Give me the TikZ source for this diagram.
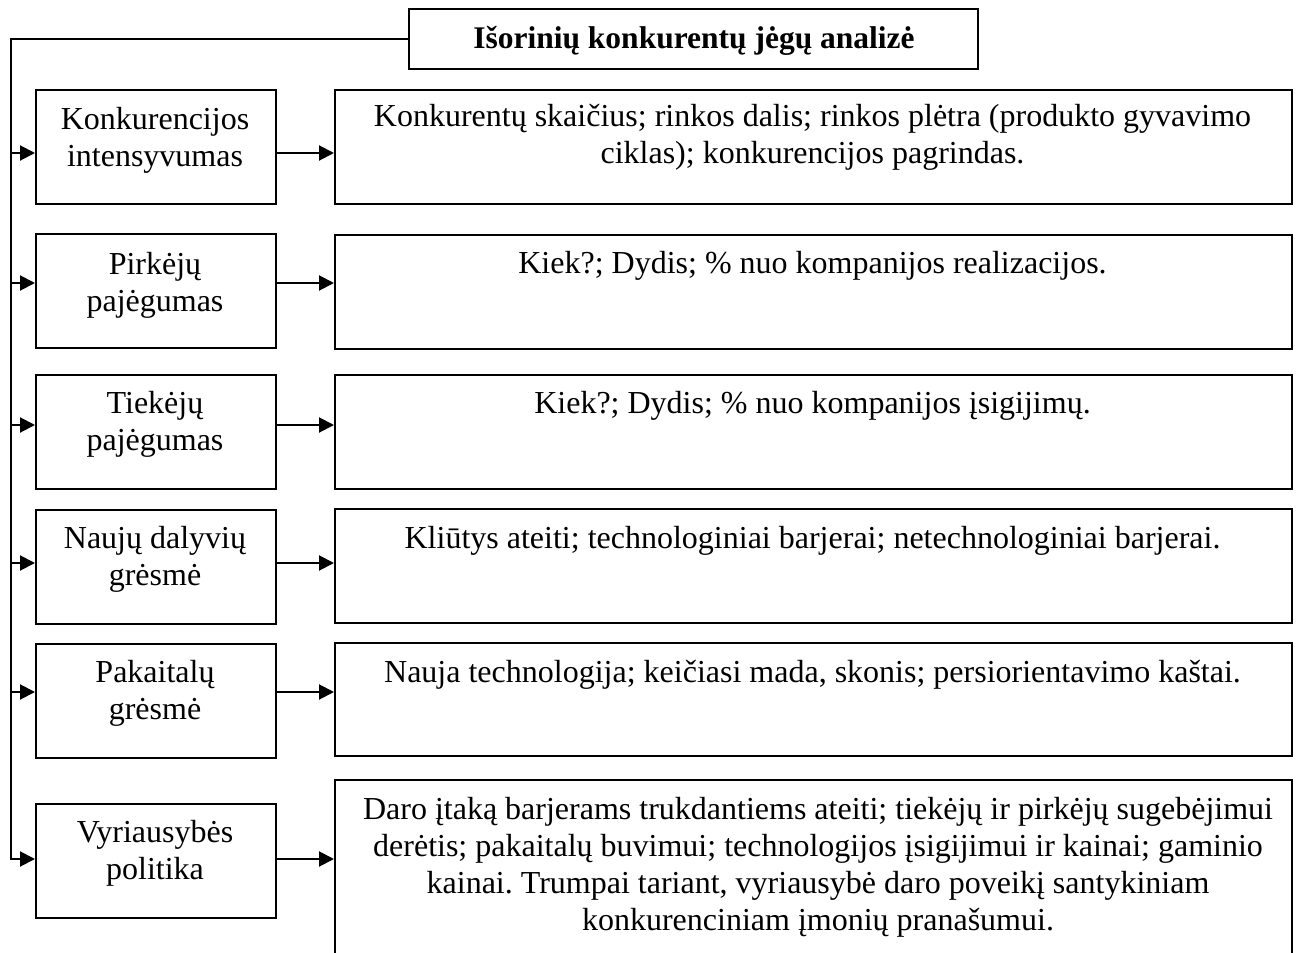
\documentclass[tikz,border=0pt]{standalone}
\usepackage{fontspec}
\setmainfont{Liberation Serif}
\usetikzlibrary{arrows.meta}
\frenchspacing
\begin{document}
\begin{tikzpicture}[x=1pt,y=-1pt,
  box/.style={draw, line width=2pt, inner sep=0pt, anchor=north west, rectangle},
  lbox/.style={box, minimum width=240pt, minimum height=114pt},
  rbox/.style={box, minimum width=957pt, minimum height=114pt},
  txt/.style={inner sep=0pt, align=center, anchor=north, yshift=25.9pt, font=\fontsize{32}{37}\selectfont},
  ttl/.style={inner sep=0pt, align=center, anchor=north, yshift=25.9pt, font=\bfseries\fontsize{31.5}{37}\selectfont},
  arr/.style={line width=2pt, line join=miter, -{Triangle[length=15pt,width=15pt]}},
]
\useasboundingbox (0,0) rectangle (1296,953);
\clip (0,0) rectangle (1296,953);

% title
\node[box, minimum width=569pt, minimum height=60pt] (T) at (408,8) {};
\node[ttl] (Tt) at (694,48) {\strut Išorinių konkurentų jėgų analizė};

% left boxes
\node[lbox] (L1) at (35,89) {};
\node[lbox] (L2) at (35,233) {};
\node[lbox] (L3) at (35,374) {};
\node[lbox] (L4) at (35,509) {};
\node[lbox] (L5) at (35,643) {};
\node[lbox] (L6) at (35,803) {};

% right boxes
\node[rbox] (R1) at (334,89) {};
\node[rbox] (R2) at (334,234) {};
\node[rbox] (R3) at (334,374) {};
\node[rbox] (R4) at (334,508) {};
\node[rbox, minimum height=113pt] (R5) at (334,642) {};
\node[rbox, minimum height=220pt] (R6) at (334,779) {};

% left texts
\node[txt] (L1t) at (155,129) {\strut Konkurencijos\\intensyvumas};
\node[txt] (L2t) at (155,274) {\strut Pirkėjų\\pajėgumas};
\node[txt] (L3t) at (155,413) {\strut Tiekėjų\\pajėgumas};
\node[txt] (L4t) at (155,548) {\strut Naujų dalyvių\\grėsmė};
\node[txt] (L5t) at (155,682) {\strut Pakaitalų\\grėsmė};
\node[txt] (L6t) at (155,842) {\strut Vyriausybės\\politika};

% right texts
\node[txt] (R1t) at (812.5,126) {\strut Konkurentų skaičius; rinkos dalis; rinkos plėtra (produkto gyvavimo\\ciklas); konkurencijos pagrindas.};
\node[txt] (R2t) at (812.5,273) {\strut Kiek?; Dydis; \% nuo kompanijos realizacijos.};
\node[txt] (R3t) at (812.5,413) {\strut Kiek?; Dydis; \% nuo kompanijos įsigijimų.};
\node[txt] (R4t) at (812.5,548) {\strut Kliūtys ateiti; technologiniai barjerai; netechnologiniai barjerai.};
\node[txt] (R5t) at (812.5,682) {\strut Nauja technologija; keičiasi mada, skonis; persiorientavimo kaštai.};
\node[txt] (R6t) at (818,819) {\strut Daro įtaką barjerams trukdantiems ateiti; tiekėjų ir pirkėjų sugebėjimui\\derėtis; pakaitalų buvimui; technologijos įsigijimui ir kainai; gaminio\\kainai. Trumpai tariant, vyriausybė daro poveikį santykiniam\\konkurenciniam įmonių pranašumui.};

% arrow levels
\coordinate (tr) at (11,0);
\coordinate (a1) at (0,153);
\coordinate (a2) at (0,283);
\coordinate (a3) at (0,425);
\coordinate (a4) at (0,563);
\coordinate (a5) at (0,692);
\coordinate (a6) at (0,859);

% trunk from title
\draw[arr] (T.west) -- (tr |- T.west) -- (tr |- a6) -- (L6.west |- a6);
\draw[arr] (tr |- a1) -- (L1.west |- a1);
\draw[arr] (tr |- a2) -- (L2.west |- a2);
\draw[arr] (tr |- a3) -- (L3.west |- a3);
\draw[arr] (tr |- a4) -- (L4.west |- a4);
\draw[arr] (tr |- a5) -- (L5.west |- a5);

% left to right arrows
\draw[arr] (L1.east |- a1) -- (R1.west |- a1);
\draw[arr] (L2.east |- a2) -- (R2.west |- a2);
\draw[arr] (L3.east |- a3) -- (R3.west |- a3);
\draw[arr] (L4.east |- a4) -- (R4.west |- a4);
\draw[arr] (L5.east |- a5) -- (R5.west |- a5);
\draw[arr] (L6.east |- a6) -- (R6.west |- a6);
\end{tikzpicture}
\end{document}
